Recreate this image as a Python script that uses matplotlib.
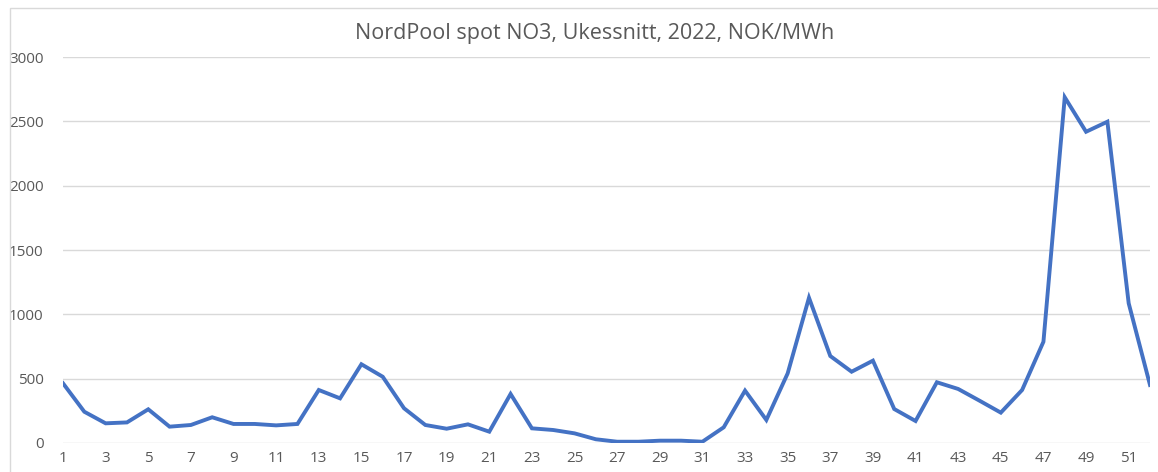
import numpy as np
import matplotlib.pyplot as plt
from matplotlib.patches import Rectangle

# week numbers and weekly average spot price NO3 2022 (NOK/MWh)
weeks = np.arange(1, 53)
price = [464, 243, 153, 160, 262, 127, 140, 200, 148, 148,
         137, 148, 412, 347, 612, 515, 270, 140, 111, 145,
         88, 381, 114, 101, 75, 29, 10, 10, 18, 18,
         10, 122, 407, 179, 541, 1129, 676, 554, 640, 264,
         171, 472, 420, 329, 236, 412, 787, 2687, 2419, 2497,
         1086, 451]
xticks = list(range(1, 53, 2))
yticks = [0, 500, 1000, 1500, 2000, 2500, 3000]

plt.rcParams['font.family'] = ['Open Sans', 'DejaVu Sans']

fig = plt.figure(figsize=(11.58, 4.72), dpi=100)
ax = fig.add_axes([63/1158, 29/472, 1087/1158, 386/472])

ax.plot(weeks, price, color='#4472C4', lw=2.8, solid_joinstyle='miter')

ax.set_xlim(1, 52)
ax.set_ylim(0, 3000)
ax.set_xticks(xticks)
ax.set_yticks(yticks)
ax.grid(axis='y', color='#d9d9d9', lw=1)
ax.set_axisbelow(True)
for s in ax.spines.values():
    s.set_visible(False)
ax.tick_params(length=0, colors='#595959', labelsize=11)
ax.tick_params(axis='x', pad=6)
ax.tick_params(axis='y', pad=14)

fig.text(595/1158, 1 - 33/472, 'NordPool spot NO3, Ukessnitt, 2022, NOK/MWh',
         ha='center', va='center', fontsize=15.5, color='#595959')

# light frame round the chart
fig.patches.append(Rectangle((10/1158, -0.1), 1.1, 1 - 8/472 + 0.1,
                             transform=fig.transFigure, fill=False,
                             edgecolor='#d9d9d9', lw=1))

fig.savefig('out.png', dpi=100)
